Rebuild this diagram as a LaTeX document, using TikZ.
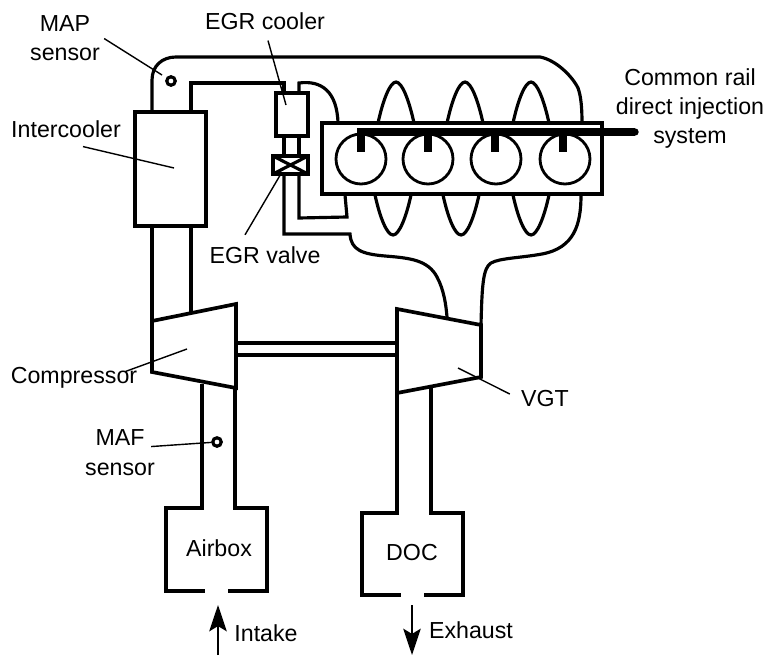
\documentclass[tikz,border=0pt]{standalone}
\usepackage{fontspec}
\setmainfont{Liberation Sans}
\usetikzlibrary{arrows.meta}
\tikzset{
	pipe/.style={line width=1.8pt, line join=miter},
	box/.style={line width=2.1pt, line join=miter},
	cylinder/.style={line width=1.6pt},
	leader/.style={line width=0.8pt},
	rail/.style={line width=4.2pt},
	flow/.style={line width=0.9pt, -{Stealth[length=15pt, width=10pt, inset=3pt]}},
	sensor/.style={circle, draw, line width=1.8pt, minimum size=0.17cm, inner sep=0pt},
	lbl/.style={font=\fontsize{13.2}{16.6}\selectfont, align=center, inner sep=0pt, anchor=base}
}
\begin{document}
\begin{tikzpicture}[x=0.02cm, y=-0.02cm]
		\useasboundingbox (0, 0) rectangle (766, 655);
		
		% Engine block
		\draw[box] (322, 123) rectangle (602, 194);
		\foreach \x in {361, 428, 496, 565} {
			\draw[cylinder] (\x, 159) circle (25);
		}
		
		% Intake manifold
		\draw[pipe] (152, 112) -- (152, 80) .. controls (152, 66) and (162, 57) .. (176, 57) -- (540, 57) .. controls (556, 60) and (572, 76) .. (578, 88) .. controls (581, 96) and (582, 108) .. (582, 123);
		\foreach \x in {378, 447, 513} {
			\draw[pipe] (\x, 123) .. controls (\x+5, 100) and (\x+12, 82) .. (\x+18, 82) .. controls (\x+24, 82) and (\x+31, 100) .. (\x+36, 123);
		}
		
		% Exhaust manifold
		\foreach \x in {375, 443, 513} {
			\draw[pipe] (\x, 195) .. controls (\x+5, 218) and (\x+12, 235) .. (\x+18, 235) .. controls (\x+24, 235) and (\x+31, 218) .. (\x+36, 195);
		}
		\draw[pipe] (581, 195) .. controls (581, 225) and (574, 248) .. (542, 254) .. controls (520, 258) and (500, 258) .. (491, 263) .. controls (483, 268) and (482, 285) .. (481, 325);
		\draw[pipe] (284, 174) -- (284, 234) -- (350, 234) .. controls (351, 250) and (362, 254) .. (385, 256) .. controls (410, 258) and (428, 260) .. (437, 277) .. controls (444, 290) and (446, 305) .. (447, 317);
		\draw[pipe] (299, 174) -- (299, 218) -- (347, 217) -- (345, 195);
		
		% EGR path
		\draw[pipe] (191, 112) -- (191, 83) -- (284, 83) -- (284, 93);
		\draw[pipe] (299, 93) -- (299, 83) .. controls (322, 80) and (337, 92) .. (338, 123);
		\draw[pipe] (284, 136) -- (284, 156);
		\draw[pipe] (299, 136) -- (299, 156);
		\draw[box] (276, 93) rectangle (308, 136);
		\draw[box] (273, 156) rectangle (308, 174);
		\draw[pipe] (273, 156) -- (308, 174);
		\draw[pipe] (273, 174) -- (308, 156);
		
		% Intercooler
		\draw[box] (135, 112) rectangle (206, 226);
		\draw[pipe] (152, 226) -- (152, 321);
		\draw[pipe] (191, 226) -- (191, 312);
		
		% Compressor and turbine
		\draw[box] (152, 321) -- (236, 304) -- (236, 388) -- (152, 372) -- cycle;
		\draw[box] (397, 309) -- (481, 325) -- (481, 377) -- (397, 393) -- cycle;
		\draw[pipe] (236, 343) -- (397, 343);
		\draw[pipe] (236, 355) -- (397, 355);
		
		% Airbox
		\draw[pipe] (202, 384) -- (202, 508) -- (166, 508) -- (166, 591) -- (205, 591);
		\draw[pipe] (235, 388) -- (235, 508) -- (267, 508) -- (267, 591) -- (228, 591);
		
		% DOC
		\draw[pipe] (397, 393) -- (397, 513) -- (362, 513) -- (362, 595) -- (401, 595);
		\draw[pipe] (431, 387) -- (431, 513) -- (463, 513) -- (463, 595) -- (424, 595);
		
		% Common rail
		\draw[rail] (357, 132) -- (635, 132);
		\fill (635, 132) circle (3.7);
		\foreach \x in {361, 428, 495, 563} {
			\draw[rail] (\x, 130) -- (\x, 152);
		}
		
		% Sensors
		\node[sensor] (mapdot) at (171, 81) {};
		\node[sensor] (mafdot) at (217, 442) {};
		
		% Labels
		\node[lbl] (maplabel) at (65, 61) {MAP\\sensor};
		\node[lbl] (egrcoolerlabel) at (265, 30) {EGR cooler};
		\node[lbl] (commonraillabel) at (690, 144) {Common rail\\direct injection\\system};
		\node[lbl] (intercoolerlabel) at (66, 138) {Intercooler};
		\node[lbl] (egrvalvelabel) at (265, 263) {EGR valve};
		\node[lbl] (compressorlabel) at (74, 383) {Compressor};
		\node[lbl] (vgtlabel) at (545, 406) {VGT};
		\node[lbl] (maflabel) at (120, 475) {MAF\\sensor};
		\node[lbl] (airboxlabel) at (219, 556) {Airbox};
		\node[lbl] (doclabel) at (412, 560) {DOC};
		\node[lbl] (intakelabel) at (266, 641) {Intake};
		\node[lbl] (exhaustlabel) at (471, 638) {Exhaust};
		
		% Leaders
		\coordinate (maptip) at (162, 75);
		\coordinate (egrcoolertip) at (286, 105);
		\coordinate (intercoolertip) at (174, 168);
		\coordinate (egrvalvetip) at (282, 172);
		\coordinate (compressortip) at (187, 349);
		\coordinate (vgttip) at (458, 368);
		\draw[leader] ([shift={(4, 0)}]maplabel.east) -- (maptip);
		\draw[leader] ([shift={(3, 10)}]egrcoolerlabel.south) -- (egrcoolertip);
		\draw[leader] ([shift={(17, 8)}]intercoolerlabel.south) -- (intercoolertip);
		\draw[leader] ([shift={(-20, -11)}]egrvalvelabel.north) -- (egrvalvetip);
		\draw[leader] ([shift={(-12, 5)}]compressorlabel.north east) -- (compressortip);
		\draw[leader] ([shift={(-11, -4)}]vgtlabel.west) -- (vgttip);
		\draw[leader] ([shift={(-4, -6)}]maflabel.east) -- (mafdot);
		
		% Flow arrows
		\coordinate (intakefoot) at (218, 655);
		\coordinate (intakehead) at (218, 605);
		\coordinate (exhaustfoot) at (412, 605);
		\coordinate (exhausthead) at (412, 655);
		\draw[flow] (intakefoot) -- (intakehead);
		\draw[flow] (exhaustfoot) -- (exhausthead);
	\end{tikzpicture}
\end{document}
